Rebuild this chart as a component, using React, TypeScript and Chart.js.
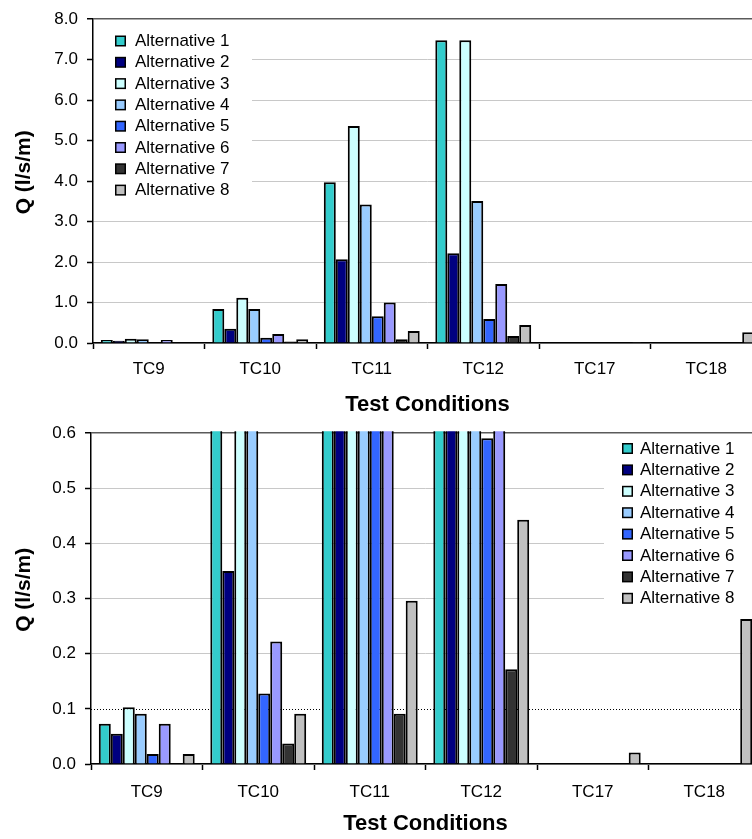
import React, { useEffect, useRef } from "react";
import { Chart, registerables } from "chart.js";

Chart.register(...registerables);

const CATEGORIES = ["TC9", "TC10", "TC11", "TC12", "TC17", "TC18"];
const SERIES_NAMES = [
  "Alternative 1",
  "Alternative 2",
  "Alternative 3",
  "Alternative 4",
  "Alternative 5",
  "Alternative 6",
  "Alternative 7",
  "Alternative 8",
];
const ALT1 = [0.073, 0.84, 3.97, 7.48, 0, 0];
const ALT2 = [0.055, 0.35, 2.07, 2.22, 0, 0];
const ALT3 = [0.103, 1.12, 5.36, 7.48, 0, 0];
const ALT4 = [0.091, 0.84, 3.42, 3.51, 0, 0];
const ALT5 = [0.018, 0.128, 0.66, 0.591, 0, 0];
const ALT6 = [0.073, 0.222, 1.0, 1.46, 0, 0];
const ALT7 = [0, 0.037, 0.091, 0.172, 0, 0];
const ALT8 = [0.018, 0.091, 0.296, 0.443, 0.021, 0.263];
const SERIES_VALUES = [ALT1, ALT2, ALT3, ALT4, ALT5, ALT6, ALT7, ALT8];
const SERIES_COLORS = [
  "#33CCCC",
  "#000080",
  "#CCFFFF",
  "#99CCFF",
  "#3366FF",
  "#9999FF",
  "#333333",
  "#C0C0C0",
];

const TOP_Y_MAX = 8;
const TOP_Y_STEP = 1;
const BOTTOM_Y_MAX = 0.6;
const BOTTOM_Y_STEP = 0.1;
const THRESHOLD = 0.1;

const Y_TITLE = "Q (l/s/m)";
const X_TITLE = "Test Conditions";

const FONT = "'Liberation Sans', Arial, Helvetica, sans-serif";

type Params = {
  width: number;
  height: number;
  yMax: number;
  yStep: number;
  padTop: number;
  padRight: number;
  yAxisW: number;
  xAxisH: number;
  xTickPad: number;
  xTitlePad: number;
  legend: {
    rect: [number, number, number, number];
    markerX: number;
    firstY: number;
    rowH: number;
    textX: number;
  };
  threshold?: number;
};

function near(a: number, b: number) {
  return Math.abs(a - b) < 1e-9;
}

function makeConfig(p: Params): any {
  const datasets = SERIES_NAMES.map((name, i) => ({
    label: name,
    data: SERIES_VALUES[i].slice(),
    backgroundColor: SERIES_COLORS[i],
    borderColor: "#000000",
    borderWidth: 2,
    borderSkipped: "start",
    categoryPercentage: 0.86,
    barPercentage: 1.0,
    clip: { top: 2, left: 0, right: 0, bottom: 0 },
  }));

  const legendPlugin = {
    id: "altLegend",
    beforeDatasetsDraw(chart: any) {
      const ctx = chart.ctx;
      const L = p.legend;
      ctx.save();
      ctx.fillStyle = "#ffffff";
      ctx.fillRect(L.rect[0], L.rect[1], L.rect[2] - L.rect[0], L.rect[3] - L.rect[1]);
      // threshold dotted line
      if (p.threshold !== undefined) {
        const y = Math.round(chart.scales.y.getPixelForValue(p.threshold)) + 0.5;
        ctx.strokeStyle = "#000000";
        ctx.lineWidth = 1;
        ctx.setLineDash([1, 2]);
        ctx.beginPath();
        ctx.moveTo(chart.chartArea.left, y);
        ctx.lineTo(chart.chartArea.right, y);
        ctx.stroke();
        ctx.setLineDash([]);
      }
      ctx.font = `17px ${FONT}`;
      ctx.textBaseline = "middle";
      ctx.textAlign = "left";
      chart.data.datasets.forEach((ds: any, i: number) => {
        const cy = L.firstY + i * L.rowH;
        ctx.fillStyle = "#000000";
        ctx.fillRect(L.markerX, cy - 5, 11, 11);
        ctx.fillStyle = ds.backgroundColor;
        ctx.fillRect(L.markerX + 1.5, cy - 3.5, 8, 8);
        ctx.fillStyle = "#000000";
        ctx.fillText(ds.label, L.textX, cy + 1);
      });
      ctx.restore();
    },
  };

  return {
    type: "bar",
    data: { labels: CATEGORIES.slice(), datasets },
    options: {
      responsive: false,
      maintainAspectRatio: false,
      animation: false,
      devicePixelRatio: 1,
      layout: { padding: { left: 0, top: p.padTop, right: p.padRight, bottom: 0 } },
      plugins: {
        legend: { display: false },
        tooltip: { enabled: false },
      },
      scales: {
        x: {
          type: "category",
          offset: true,
          afterFit: (scale: any) => {
            scale.height = p.xAxisH;
          },
          grid: {
            offset: true,
            drawOnChartArea: false,
            drawTicks: true,
            tickLength: 6,
            tickColor: "#000000",
            tickWidth: 1.5,
          },
          border: { color: "#000000", width: 1.5 },
          ticks: {
            padding: p.xTickPad,
            color: "#000000",
            font: { family: FONT, size: 17 },
            maxRotation: 0,
            autoSkip: false,
          },
          title: {
            display: true,
            text: X_TITLE,
            color: "#000000",
            font: { family: FONT, size: 22, weight: "bold" },
            padding: { top: 0, bottom: p.xTitlePad },
          },
        },
        y: {
          min: 0,
          max: p.yMax,
          afterFit: (scale: any) => {
            scale.width = p.yAxisW;
          },
          grid: {
            color: (c: any) => {
              const v = c.tick ? c.tick.value : NaN;
              if (near(v, p.yMax)) return "#5a5a5a";
              if (p.threshold !== undefined && near(v, p.threshold)) return "rgba(0,0,0,0)";
              return "#C8C8C8";
            },
            lineWidth: (c: any) => {
              const v = c.tick ? c.tick.value : NaN;
              return near(v, p.yMax) ? 1.5 : 1;
            },
            drawTicks: true,
            tickLength: 6,
            tickColor: "#000000",
            tickWidth: 1.5,
          },
          border: { color: "#000000", width: 1.5 },
          ticks: {
            stepSize: p.yStep,
            padding: 9,
            color: "#000000",
            font: { family: FONT, size: 17 },
            callback: (v: any) => Number(v).toFixed(1),
          },
          title: {
            display: true,
            text: "   " + Y_TITLE,
            color: "#000000",
            font: { family: FONT, size: 21, weight: "bold" },
            padding: { top: 12, bottom: 0 },
          },
        },
      },
    },
    plugins: [legendPlugin],
  };
}

const TOP_PARAMS: Params = {
  width: 770,
  height: 418,
  yMax: TOP_Y_MAX,
  yStep: TOP_Y_STEP,
  padTop: 17,
  padRight: 8,
  yAxisW: 93,
  xAxisH: 75,
  xTickPad: 10,
  xTitlePad: 0,
  legend: { rect: [94, 26, 252, 198], markerX: 115, firstY: 40.5, rowH: 21.3, textX: 135 },
};

const BOTTOM_PARAMS: Params = {
  width: 770,
  height: 425,
  yMax: BOTTOM_Y_MAX,
  yStep: BOTTOM_Y_STEP,
  padTop: 14,
  padRight: 10,
  yAxisW: 91,
  xAxisH: 75,
  xTickPad: 12,
  xTitlePad: 2,
  legend: { rect: [604, 20, 760, 194], markerX: 622, firstY: 34, rowH: 21.4, textX: 640 },
  threshold: THRESHOLD,
};

function ChartCanvas({ params, top }: { params: Params; top: number }) {
  const ref = useRef<HTMLCanvasElement | null>(null);
  useEffect(() => {
    if (!ref.current) return;
    const chart = new Chart(ref.current, makeConfig(params));
    return () => chart.destroy();
  }, [params]);
  return (
    <canvas
      ref={ref}
      width={params.width}
      height={params.height}
      style={{
        position: "absolute",
        left: 0,
        top,
        width: params.width,
        height: params.height,
        background: "#ffffff",
        display: "block",
      }}
    />
  );
}

export default function App() {
  return (
    <div
      style={{
        position: "fixed",
        left: 0,
        top: 0,
        width: 752,
        height: 839,
        overflow: "hidden",
        background: "#ffffff",
      }}
    >
      <ChartCanvas params={TOP_PARAMS} top={0} />
      <ChartCanvas params={BOTTOM_PARAMS} top={414} />
    </div>
  );
}
